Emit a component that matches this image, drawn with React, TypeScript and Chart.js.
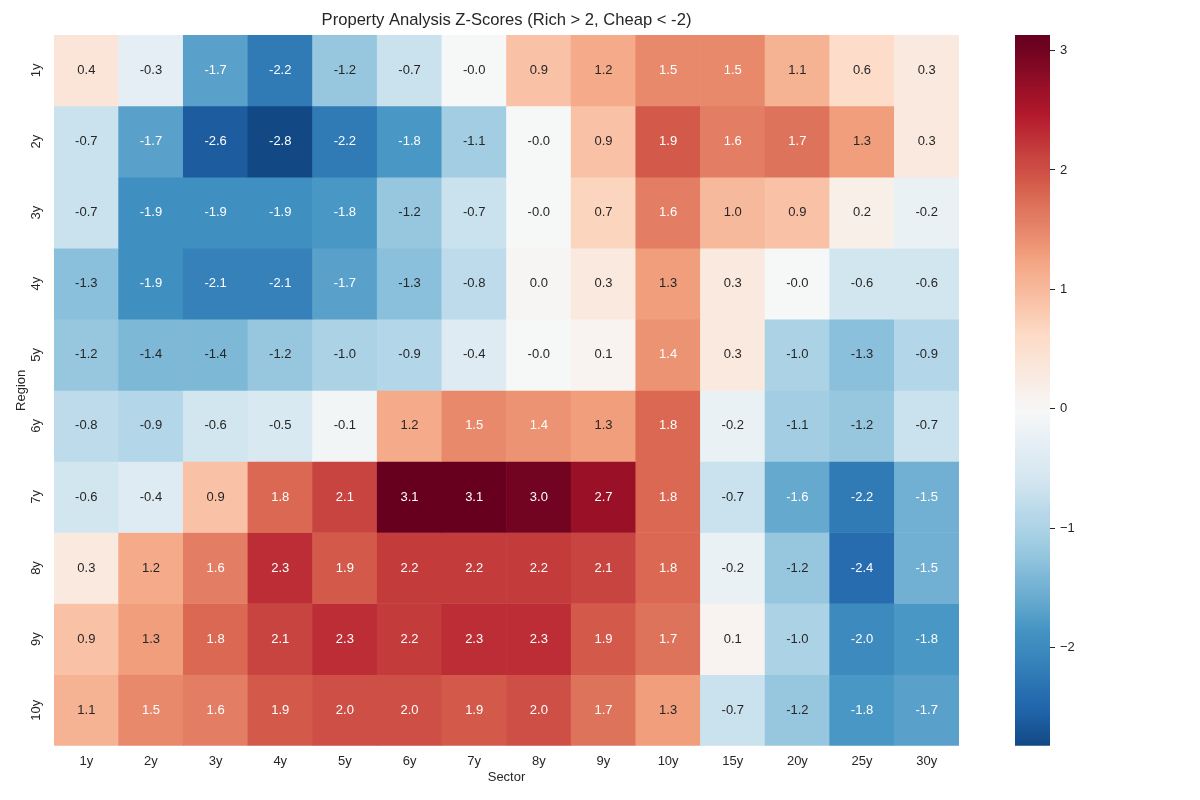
import { useEffect, useRef } from 'react';
import { Chart, registerables } from 'chart.js';

Chart.register(...registerables);

// Column (sector) and row (region) labels
const sectors = ['1y', '2y', '3y', '4y', '5y', '6y', '7y', '8y', '9y', '10y', '15y', '20y', '25y', '30y'];
const regions = ['1y', '2y', '3y', '4y', '5y', '6y', '7y', '8y', '9y', '10y'];

// Z-scores per region, one value per sector
const z1y = [0.4, -0.3, -1.7, -2.2, -1.2, -0.7, -0.02, 0.9, 1.2, 1.5, 1.5, 1.1, 0.6, 0.3];
const z2y = [-0.7, -1.7, -2.6, -2.8, -2.2, -1.8, -1.1, -0.02, 0.9, 1.9, 1.6, 1.7, 1.3, 0.3];
const z3y = [-0.7, -1.9, -1.9, -1.9, -1.8, -1.2, -0.7, -0.02, 0.7, 1.6, 1.0, 0.9, 0.2, -0.2];
const z4y = [-1.3, -1.9, -2.1, -2.1, -1.7, -1.3, -0.8, 0.02, 0.3, 1.3, 0.3, -0.02, -0.6, -0.6];
const z5y = [-1.2, -1.4, -1.4, -1.2, -1.0, -0.9, -0.4, -0.02, 0.1, 1.4, 0.3, -1.0, -1.3, -0.9];
const z6y = [-0.8, -0.9, -0.6, -0.5, -0.1, 1.2, 1.5, 1.4, 1.3, 1.8, -0.2, -1.1, -1.2, -0.7];
const z7y = [-0.6, -0.4, 0.9, 1.8, 2.1, 3.1, 3.1, 3.0, 2.7, 1.8, -0.7, -1.6, -2.2, -1.5];
const z8y = [0.3, 1.2, 1.6, 2.3, 1.9, 2.2, 2.2, 2.2, 2.1, 1.8, -0.2, -1.2, -2.4, -1.5];
const z9y = [0.9, 1.3, 1.8, 2.1, 2.3, 2.2, 2.3, 2.3, 1.9, 1.7, 0.1, -1.0, -2.0, -1.8];
const z10y = [1.1, 1.5, 1.6, 1.9, 2.0, 2.0, 1.9, 2.0, 1.7, 1.3, -0.7, -1.2, -1.8, -1.7];
const zRows = [z1y, z2y, z3y, z4y, z5y, z6y, z7y, z8y, z9y, z10y];

// Colour range (centred on zero) and colour-bar ticks
const colorMin = -2.82;
const colorMax = 3.13;
const colorCenter = 0;
const colorbarTicks = [-2, -1, 0, 1, 2, 3];

const TEXT = '#262626';
const FONT = 'Liberation Sans, Arial, Helvetica, sans-serif';

// Diverging blue-white-red palette (low -> high)
const paletteStops: [number, number, number][] = [
  [5, 48, 97],
  [33, 102, 172],
  [67, 147, 195],
  [146, 197, 222],
  [209, 229, 240],
  [247, 247, 247],
  [253, 219, 199],
  [244, 165, 130],
  [214, 96, 77],
  [178, 24, 43],
  [103, 0, 31],
];

function paletteAt(x: number): [number, number, number] {
  const seg = Math.max(0, Math.min(1, x)) * (paletteStops.length - 1);
  const k = Math.min(paletteStops.length - 2, Math.floor(seg));
  const f = seg - k;
  const a = paletteStops[k];
  const b = paletteStops[k + 1];
  return [a[0] + (b[0] - a[0]) * f, a[1] + (b[1] - a[1]) * f, a[2] + (b[2] - a[2]) * f];
}

// 256-entry base lookup
function basePalette(x: number): [number, number, number] {
  const idx = Math.max(0, Math.min(255, Math.floor(x * 256)));
  return paletteAt(idx / 255);
}

// Symmetric range around the centre, trimmed to the data range
const halfRange = Math.max(colorMax - colorCenter, colorCenter - colorMin);
const cLow = (colorMin - (colorCenter - halfRange)) / (2 * halfRange);
const cHigh = (colorMax - (colorCenter - halfRange)) / (2 * halfRange);

function rgbAtFraction(t: number): [number, number, number] {
  const idx = Math.max(0, Math.min(255, Math.floor(t * 256)));
  return basePalette(cLow + ((cHigh - cLow) * idx) / 255);
}

function rgbFor(v: number): [number, number, number] {
  return rgbAtFraction((v - colorMin) / (colorMax - colorMin));
}

function toCss(c: [number, number, number]): string {
  return `rgb(${Math.round(c[0])}, ${Math.round(c[1])}, ${Math.round(c[2])})`;
}

function cssFor(v: number): string {
  return toCss(rgbFor(v));
}

function textColorFor(v: number): string {
  const lin = rgbFor(v).map((c) => {
    const s = c / 255;
    return s <= 0.03928 ? s / 12.92 : Math.pow((s + 0.055) / 1.055, 2.4);
  });
  const lum = 0.2126 * lin[0] + 0.7152 * lin[1] + 0.0722 * lin[2];
  return lum > 0.408 ? TEXT : '#ffffff';
}

const cellLabels = {
  id: 'cellLabels',
  afterDatasetsDraw(chart: any) {
    const ctx = chart.ctx;
    ctx.save();
    ctx.font = `13px ${FONT}`;
    ctx.textAlign = 'center';
    ctx.textBaseline = 'middle';
    chart.data.datasets.forEach((_ds: any, r: number) => {
      const meta = chart.getDatasetMeta(r);
      meta.data.forEach((el: any, c: number) => {
        const v = zRows[r][c];
        const { x, y } = el.getCenterPoint();
        ctx.fillStyle = textColorFor(v);
        ctx.fillText(v.toFixed(1), x, y);
      });
    });
    ctx.restore();
  },
};

export default function App() {
  const mainRef = useRef<HTMLCanvasElement | null>(null);
  const barRef = useRef<HTMLCanvasElement | null>(null);

  useEffect(() => {
    if (!mainRef.current || !barRef.current) return;

    const heat = new Chart(mainRef.current, {
      type: 'bar',
      data: {
        labels: sectors,
        datasets: zRows.map((vals, r) => ({
          label: regions[r],
          data: vals.map(() => [r, r + 1]),
          backgroundColor: vals.map(cssFor),
          borderWidth: 0,
          barPercentage: 1,
          categoryPercentage: 1,
          grouped: false,
        })) as any,
      },
      options: {
        responsive: false,
        animation: false,
        layout: { padding: { left: 0, right: 41, top: 0, bottom: 0 } },
        plugins: {
          legend: { display: false },
          tooltip: { enabled: false },
          title: {
            display: true,
            fullSize: false,
            text: 'Property Analysis Z-Scores (Rich > 2, Cheap < -2)',
            color: TEXT,
            font: { family: FONT, size: 16.6, weight: 'normal' },
            padding: { top: 10, bottom: 5 },
          },
        },
        scales: {
          x: {
            type: 'category',
            offset: true,
            grid: { display: false, drawTicks: false },
            border: { display: false },
            ticks: { color: TEXT, font: { family: FONT, size: 13 }, padding: 8, maxRotation: 0, autoSkip: false },
            title: {
              display: true,
              text: 'Sector',
              color: TEXT,
              font: { family: FONT, size: 13 },
              padding: { top: 0, bottom: 15 },
            },
            afterFit: (s: any) => {
              s.height = 54.3;
            },
          },
          y: {
            type: 'linear',
            min: 0,
            max: 10,
            reverse: true,
            afterBuildTicks: (s: any) => {
              s.ticks = regions.map((_, i) => ({ value: i + 0.5 }));
            },
            grid: { display: false, drawTicks: false },
            border: { display: false },
            ticks: {
              callback: (_v: any, i: number) => regions[i],
              minRotation: 90,
              maxRotation: 90,
              crossAlign: 'center',
              padding: 7,
              color: TEXT,
              font: { family: FONT, size: 13 },
            },
            title: {
              display: true,
              text: 'Region',
              color: TEXT,
              font: { family: FONT, size: 13 },
              padding: { top: 14, bottom: 0 },
            },
            afterFit: (s: any) => {
              s.width = 54;
            },
          },
        },
      } as any,
      plugins: [cellLabels],
    });

    const bar = new Chart(barRef.current, {
      type: 'bar',
      data: {
        labels: [''],
        datasets: [
          {
            data: [[colorMin, colorMax]],
            backgroundColor: (c: any) => {
              const chart = c.chart;
              const ys = chart.scales && chart.scales.y;
              if (!chart.chartArea || !ys) return 'rgb(247,247,247)';
              const g = chart.ctx.createLinearGradient(
                0,
                ys.getPixelForValue(colorMin),
                0,
                ys.getPixelForValue(colorMax)
              );
              const steps = 64;
              for (let i = 0; i <= steps; i++) {
                g.addColorStop(i / steps, toCss(rgbAtFraction(i / steps)));
              }
              return g;
            },
            borderWidth: 0,
            barPercentage: 1,
            categoryPercentage: 1,
          },
        ] as any,
      },
      options: {
        responsive: false,
        animation: false,
        layout: { padding: { left: 15, right: 110, top: 35, bottom: 54.3 } },
        plugins: { legend: { display: false }, tooltip: { enabled: false } },
        scales: {
          x: { display: false },
          y: {
            position: 'right',
            min: colorMin,
            max: colorMax,
            afterBuildTicks: (s: any) => {
              s.ticks = colorbarTicks.map((v) => ({ value: v }));
            },
            grid: { drawOnChartArea: false, drawTicks: true, tickLength: 5, tickColor: TEXT, tickWidth: 1 },
            border: { display: false },
            ticks: {
              callback: (v: any) => (v < 0 ? '\u2212' + Math.abs(v) : String(v)),
              color: TEXT,
              font: { family: FONT, size: 13 },
              padding: 5,
            },
            afterFit: (s: any) => {
              s.width = 40;
            },
          },
        },
      } as any,
    });

    return () => {
      heat.destroy();
      bar.destroy();
    };
  }, []);

  return (
    <div style={{ position: 'absolute', left: 0, top: 0, width: 1200, height: 800, background: '#ffffff' }}>
      <canvas
        ref={mainRef}
        width={1000}
        height={800}
        style={{ position: 'absolute', left: 0, top: 0, width: 1000, height: 800 }}
      />
      <canvas
        ref={barRef}
        width={200}
        height={800}
        style={{ position: 'absolute', left: 1000, top: 0, width: 200, height: 800 }}
      />
    </div>
  );
}
